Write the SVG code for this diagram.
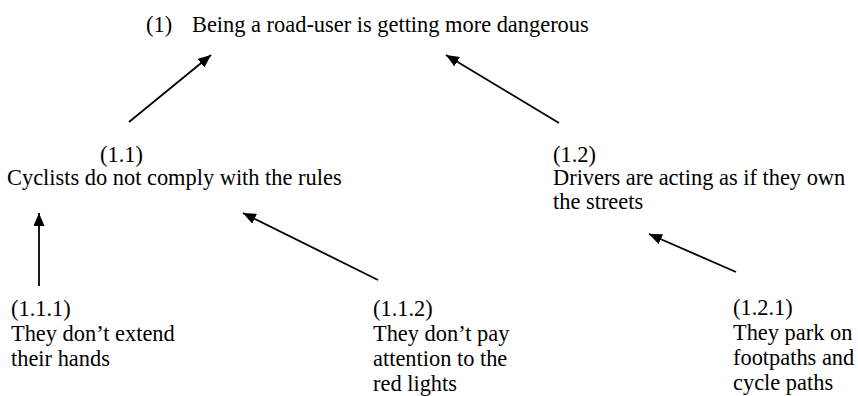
<svg xmlns="http://www.w3.org/2000/svg" width="858" height="396" viewBox="0 0 858 396">
<defs>
<style>
text{font-family:"Liberation Serif","Times New Roman",serif;font-size:22.4px;fill:#000}
.c{stroke:#000;stroke-width:1.8;fill:none;marker-end:url(#ah)}
</style>
<marker id="ah" markerUnits="userSpaceOnUse" markerWidth="14" markerHeight="11" refX="13" refY="5.5" orient="auto">
<path d="M0,0 L13,5.5 L0,11 z" fill="#000"/>
</marker>
</defs>
<rect width="858" height="396" fill="#fff"/>
<g id="n1"><text x="146" y="32">(1)</text><text x="192" y="32">Being a road-user is getting more dangerous</text></g>
<g id="n1-1"><text x="100" y="162">(1.1)</text><text x="7" y="185">Cyclists do not comply with the rules</text></g>
<g id="n1-2"><text x="553" y="162">(1.2)</text><text x="553" y="185">Drivers are acting as if they own</text><text x="553" y="209">the streets</text></g>
<g id="n1-1-1"><text x="11" y="316">(1.1.1)</text><text x="11" y="341">They don’t extend</text><text x="11" y="366">their hands</text></g>
<g id="n1-1-2"><text x="373" y="316">(1.1.2)</text><text x="373" y="341">They don’t pay</text><text x="373" y="366">attention to the</text><text x="373" y="391">red lights</text></g>
<g id="n1-2-1"><text x="733" y="315">(1.2.1)</text><text x="733" y="340">They park on</text><text x="733" y="365">footpaths and</text><text x="733" y="390">cycle paths</text></g>
<g id="connectors">
<line class="c" x1="129" y1="122" x2="211" y2="55"/>
<line class="c" x1="559" y1="123" x2="446" y2="55"/>
<line class="c" x1="39" y1="286" x2="39" y2="213"/>
<line class="c" x1="378" y1="280" x2="243" y2="213"/>
<line class="c" x1="736" y1="272" x2="649" y2="234"/>
</g>
</svg>
